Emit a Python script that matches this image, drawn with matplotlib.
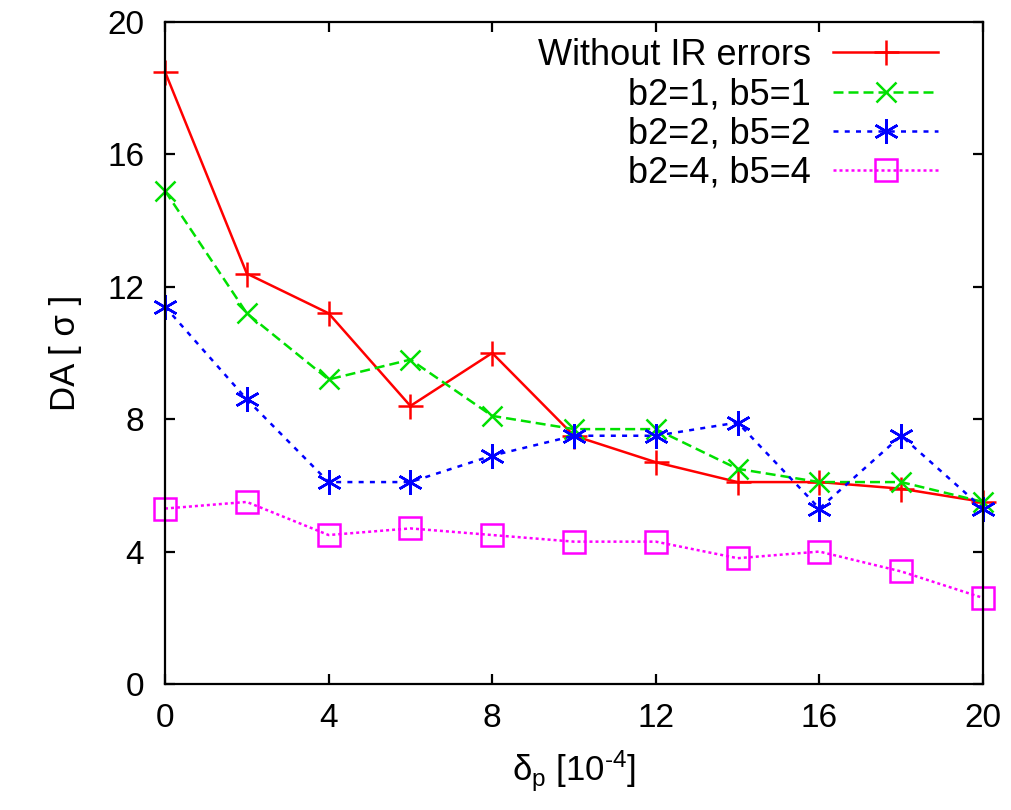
import matplotlib
matplotlib.use("Agg")
import matplotlib.pyplot as plt

plt.rcParams['font.family'] = ['Liberation Sans', 'DejaVu Sans']
plt.rcParams['mathtext.fontset'] = 'custom'
plt.rcParams['mathtext.rm'] = 'Liberation Sans'
plt.rcParams['mathtext.it'] = 'Liberation Sans'

x = [0, 2, 4, 6, 8, 10, 12, 14, 16, 18, 20]
no_err = [18.5, 12.4, 11.2, 8.4, 10.0, 7.5, 6.7, 6.1, 6.1, 5.9, 5.5]
b1 = [14.9, 11.2, 9.2, 9.8, 8.1, 7.7, 7.7, 6.5, 6.1, 6.1, 5.5]
b2 = [11.4, 8.6, 6.1, 6.1, 6.9, 7.5, 7.5, 7.9, 5.3, 7.5, 5.3]
b4 = [5.3, 5.5, 4.5, 4.7, 4.5, 4.3, 4.3, 3.8, 4.0, 3.4, 2.6]
labels = ["Without IR errors", "b2=1, b5=1", "b2=2, b5=2", "b2=4, b5=4"]

fig = plt.figure(figsize=(10.11, 8.10), dpi=100)
ax = fig.add_axes([0.1632, 0.1556, 0.8091, 0.8172])

ax.plot(x, no_err, color='#ff0000', ls='-', lw=1.8, marker='+', ms=18, mew=1.8, label=labels[0], clip_on=False)
ax.plot(x, b1, color='#00e000', ls=(0, (4, 2)), lw=1.8, marker='x', ms=15, mew=1.8, label=labels[1], clip_on=False)
ax.plot(x, b2, color='#0000ff', ls=(0, (2, 2.5)), lw=1.8, marker=(6, 2, 0), ms=18, mew=1.8, label=labels[2], clip_on=False)
ax.plot(x, b4, color='#ff00ff', ls=(0, (1.2, 1.2)), lw=1.8, marker='s', ms=16, mew=1.8, mfc='none', label=labels[3], clip_on=False)

ax.set_xlim(0, 20)
ax.set_ylim(0, 20)
ax.set_xticks([0, 4, 8, 12, 16, 20])
ax.set_yticks([0, 4, 8, 12, 16, 20])
ax.tick_params(direction='in', length=7, width=1.6, top=True, right=True, labelsize=24)
ax.tick_params(axis='y', pad=15)
ax.tick_params(axis='x', pad=14)
for s in ax.spines.values():
    s.set_linewidth(1.6)

ax.set_xlabel(r'$\delta_{\rm p}$ [10$^{\text{-4}}$]', fontsize=25, labelpad=10)
ax.set_ylabel('DA [ σ ]', fontsize=25, labelpad=18)

leg = ax.legend(loc='upper right', frameon=False, markerfirst=False, fontsize=26,
                handlelength=2.9, borderaxespad=0, borderpad=0, labelspacing=0.12, handletextpad=0.62,
                bbox_to_anchor=(0.945, 0.976))

fig.savefig('out.png', dpi=100)
